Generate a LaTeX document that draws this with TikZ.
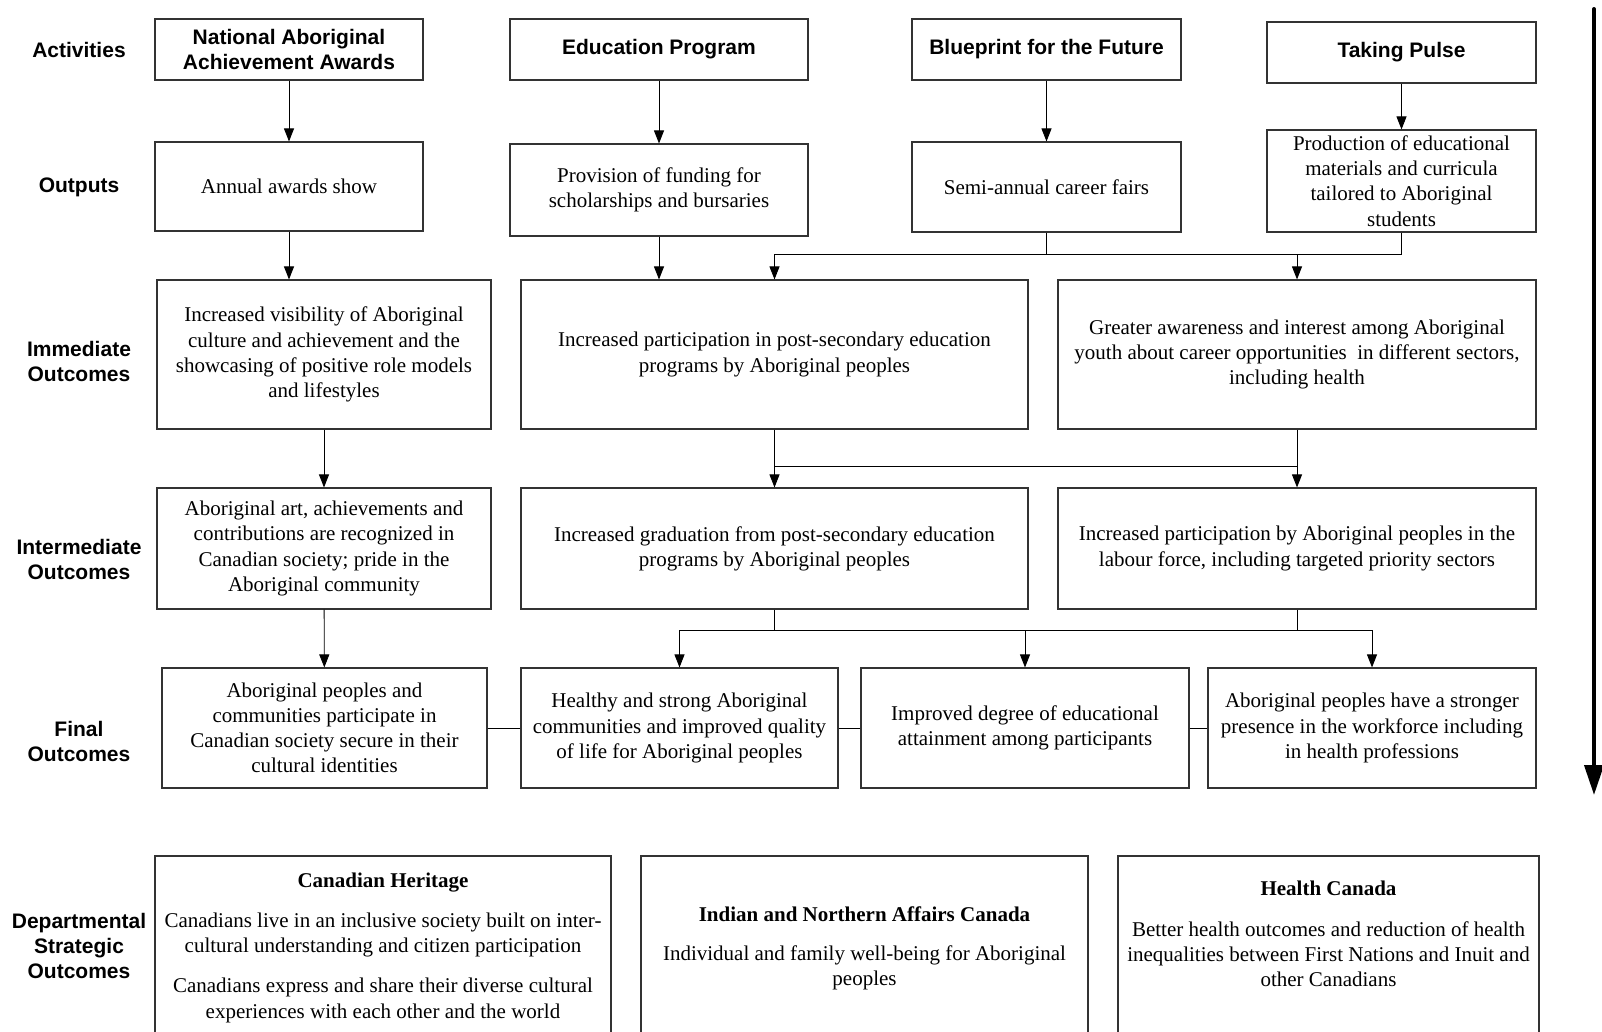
\documentclass[tikz,border=0pt]{standalone}
\usepackage{fontspec}
\setmainfont{Liberation Serif}
\newfontfamily\lab{Liberation Sans}
\usetikzlibrary{arrows.meta}
\begin{document}
\begin{tikzpicture}[x=1pt,y=-1pt,
  box/.style={draw=black!80, line width=1.1pt, align=center, inner sep=0pt, font=\fontsize{21}{25.2}\selectfont},
  sz/.style 2 args={minimum width=#1pt, minimum height=#2pt},
  actbox/.style={box, font=\lab\bfseries\fontsize{21}{24.5}\selectfont},
  txt/.style={align=center, inner sep=0pt, font=\fontsize{21}{25.2}\selectfont},
  rowlab/.style={align=center, inner sep=0pt, font=\lab\bfseries\fontsize{21}{25}\selectfont},
  arr/.style={-{Triangle[length=13pt,width=10pt]}, line width=0.9pt},
  ln/.style={line width=0.9pt},
  bigarr/.style={line width=4pt, line cap=round, -{Triangle[length=30pt,width=19pt]}},
]
\useasboundingbox (0,0) rectangle (1602,1031);

% row labels
\node[rowlab] (l1) at (79,50) {Activities};
\node[rowlab] (l2) at (79,187) {Outputs};
\node[rowlab] (l3) at (79,361) {Immediate\\Outcomes};
\node[rowlab] (l4) at (79,559) {Intermediate\\Outcomes};
\node[rowlab] (l5) at (79,741) {Final\\Outcomes};
\node[rowlab] (l6) at (79,946) {Departmental\\Strategic\\Outcomes};

% activities
\node[actbox, sz={268}{61}] (a1) at (289,49.5) {National Aboriginal\\Achievement Awards};
\node[actbox, sz={298}{61}] (a2) at (659,49.5) {Education Program};
\node[actbox, sz={269}{61}] (a3) at (1046.5,49.5) {Blueprint for the Future};
\node[actbox, sz={269}{61}] (a4) at (1401.5,52.5) {Taking Pulse};

% outputs
\node[box, sz={268}{89}] (o1) at (289,186.5) {Annual awards show};
\node[box, sz={298}{92}] (o2) at (659,190) {Provision of funding for\\scholarships and bursaries};
\node[box, sz={269}{90}] (o3) at (1046.5,187) {Semi-annual career fairs};
\node[box, sz={269}{102}] (o4) at (1401.5,181) {Production of educational\\materials and curricula\\tailored to Aboriginal\\students};

% immediate
\node[box, sz={334}{149}] (i1) at (324,354.5) {Increased visibility of Aboriginal\\culture and achievement and the\\showcasing of positive role models\\and lifestyles};
\node[box, sz={507}{149}] (i2) at (774.5,354.5) {Increased participation in post-secondary education\\programs by Aboriginal peoples};
\node[box, sz={478}{149}] (i3) at (1297,354.5) {Greater awareness and interest among Aboriginal\\youth about career opportunities\ \ in different sectors,\\including health};

% intermediate
\node[box, sz={334}{121}] (m1) at (324,548.5) {Aboriginal art, achievements and\\contributions are recognized in\\Canadian society; pride in the\\Aboriginal community};
\node[box, sz={507}{121}] (m2) at (774.5,548.5) {Increased graduation from post-secondary education\\programs by Aboriginal peoples};
\node[box, sz={478}{121}] (m3) at (1297,548.5) {Increased participation by Aboriginal peoples in the\\labour force, including targeted priority sectors};

% final
\node[box, sz={325}{120}] (f1) at (324.5,728) {Aboriginal peoples and\\communities participate in\\Canadian society secure in their\\cultural identities};
\node[box, sz={317}{120}] (f2) at (679.5,728) {Healthy and strong Aboriginal\\communities and improved quality\\of life for Aboriginal peoples};
\node[box, sz={328}{120}] (f3) at (1025,728) {Improved degree of educational\\attainment among participants};
\node[box, sz={328}{120}] (f4) at (1372,728) {Aboriginal peoples have a stronger\\presence in the workforce including\\in health professions};

% departmental
\node[box, sz={456}{204}] (d1) at (383,958) {};
\node[box, sz={447}{204}] (d2) at (864.5,958) {};
\node[box, sz={421}{204}] (d3) at (1328.5,958) {};
\node[txt] (d1h) at (383,883) {\textbf{Canadian Heritage}};
\node[txt] (d1a) at (383,935) {Canadians live in an inclusive society built on inter-\\cultural understanding and citizen participation};
\node[txt] (d1b) at (383,1000.5) {Canadians express and share their diverse cultural\\experiences with each other and the world};
\node[txt] (d2h) at (864.5,914.5) {\textbf{Indian and Northern Affairs Canada}};
\node[txt] (d2a) at (864.5,968) {Individual and family well-being for Aboriginal\\peoples};
\node[txt] (d3h) at (1328.5,888) {\textbf{Health Canada}};
\node[txt] (d3a) at (1328.5,954) {Better health outcomes and reduction of health\\inequalities between First Nations and Inuit and\\other Canadians};

% junction coordinates
\coordinate (j1) at (0,254);
\coordinate (j2) at (0,466);
\coordinate (j3) at (0,630);

% activities -> outputs
\draw[arr] (a1) -- (o1);
\draw[arr] (a2) -- (o2);
\draw[arr] (a3) -- (o3);
\draw[arr] (a4) -- (o4);

% outputs -> immediate
\draw[arr] (o1.south) -- (o1.south |- i1.north);
\draw[arr] (o2.south) -- (o2.south |- i2.north);
\draw[ln] (o3.south) -- (o3.south |- j1);
\draw[ln] (o4.south) -- (o4.south |- j1);
\draw[ln] (i2.north |- j1) -- (o4.south |- j1);
\draw[arr] (i2.north |- j1) -- (i2.north);
\draw[arr] (i3.north |- j1) -- (i3.north);

% immediate -> intermediate
\draw[arr] (i1) -- (m1);
\draw[arr] (i2) -- (m2);
\draw[arr] (i3) -- (m3);
\draw[ln] (i2.south |- j2) -- (i3.south |- j2);

% intermediate -> final
\draw[arr] (m1) -- (f1);
\draw[ln] (m2.south) -- (m2.south |- j3);
\draw[ln] (m3.south) -- (m3.south |- j3);
\draw[ln] (f2.north |- j3) -- (f4.north |- j3);
\draw[arr] (f2.north |- j3) -- (f2.north);
\draw[arr] (f3.north |- j3) -- (f3.north);
\draw[arr] (f4.north |- j3) -- (f4.north);

% final links
\draw[ln] (f1) -- (f2);
\draw[ln] (f2) -- (f3);
\draw[ln] (f3) -- (f4);

% big arrow
\coordinate (t0) at (1594,9);
\coordinate (t1) at (1594,795);
\draw[bigarr] (t0) -- (t1);
\end{tikzpicture}
\end{document}
